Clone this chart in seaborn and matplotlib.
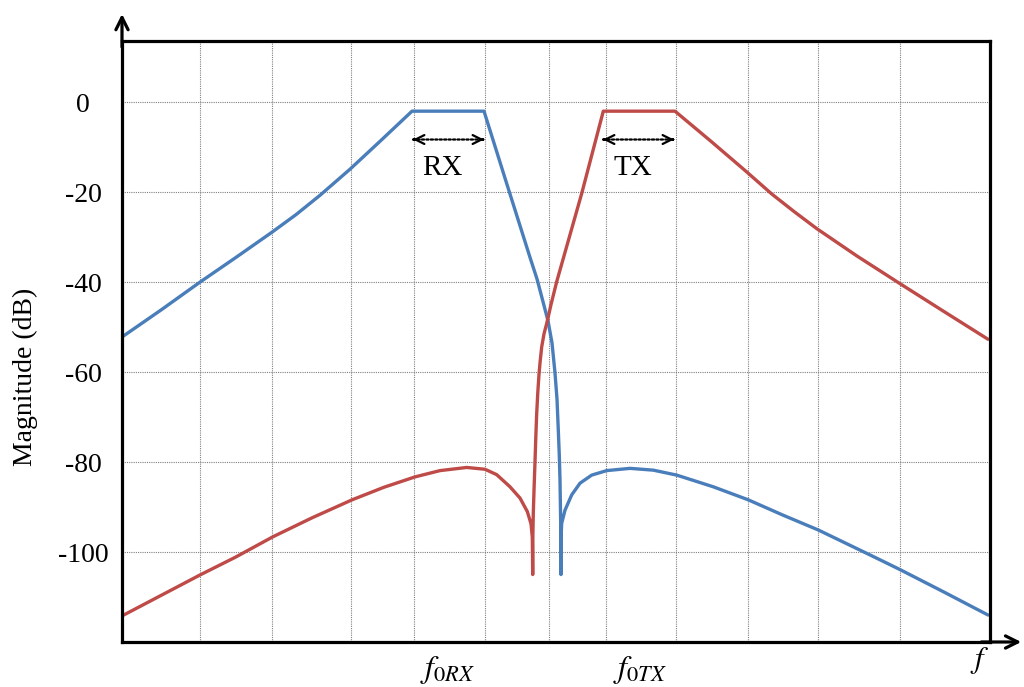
import matplotlib
matplotlib.use('Agg')
import matplotlib.pyplot as plt
import seaborn as sns

# ---------------- data (frequency in arbitrary units, magnitude in dB) ----------------
rx_x = [0, 39, 78, 114, 150, 174, 198, 228, 258, 290, 362, 385, 408, 415, 420, 426, 430, 433,
        435, 436.3, 437.3, 438, 438.8, 439,
        439, 439.7, 443, 449.7, 458, 469.7, 484.7, 508, 531.3, 554.7, 591.3, 626.3, 661,
        696.3, 751.3, 778, 822, 866]
rx_db = [-52.2, -46.2, -40.0, -34.5, -28.9, -25.0, -20.7, -14.9, -8.7, -2.0, -2.0, -18.3, -34.5,
         -39.3, -43.5, -48.6, -53.5, -60.2, -66.0, -72.9, -78.5, -84.0, -95.0, -105.0,
         -97.0, -93.6, -90.7, -87.3, -84.7, -82.9, -81.9, -81.4, -81.8, -82.9, -85.5, -88.4, -91.8,
         -95.1, -101.0, -103.9, -108.9, -114.0]

tx_x = [0, 78, 113, 151, 190, 230, 262, 293, 318, 344.7, 363, 374.7, 388, 398, 405.3, 409,
        410.3, 410.7,
        410.9, 411.3, 412.2, 413, 413.8, 414.7, 415.8, 417, 418.2, 419.7, 422, 424.7, 429, 434.7,
        459.7, 481.3, 553, 589, 624.7, 649.7, 672, 694.7, 735, 776.3, 821, 866]
tx_db = [-114.2, -105.1, -101.2, -96.6, -92.4, -88.4, -85.6, -83.3, -81.9, -81.2, -81.6, -82.8,
         -85.5, -88.0, -91.0, -93.7, -96.7, -105.0,
         -96.0, -91.3, -85.0, -80.0, -74.5, -69.2, -64.5, -60.5, -57.5, -54.4, -51.5, -49.2, -45.0,
         -39.9, -20.3, -2.0, -2.0, -8.7, -15.5, -20.4, -24.3, -28.1, -34.2, -40.1, -46.4, -52.7]

ytick_vals = [0, -20, -40, -60, -80, -100]
ytick_labels = ['0', '-20', '-40', '-60', '-80', '-100']
xtick_vals = [326, 518]
xtick_labels = [r'$f_{0RX}$', r'$f_{0TX}$']
grid_x = [77.5, 149.5, 229, 292, 363, 426.5, 483.5, 554, 626, 696, 777.5]
rx_band = [291, 362]
tx_band = [481, 552]
band_arrow_db = -8.3
band_label_db = -14.7
band_labels = ['RX', 'TX']

blue = '#4a7ebb'
red = '#be4b48'

# ---------------- style ----------------
sns.set_style('white')
plt.rcParams['font.family'] = ['Liberation Serif', 'DejaVu Serif']
plt.rcParams['mathtext.fontset'] = 'stix'
plt.rcParams['axes.unicode_minus'] = False
plt.rcParams['text.color'] = 'black'
plt.rcParams['xtick.color'] = 'black'
plt.rcParams['ytick.color'] = 'black'
plt.rcParams['xtick.labelcolor'] = 'black'
plt.rcParams['ytick.labelcolor'] = 'black'

fig = plt.figure(figsize=(10.24, 6.87), dpi=100)
ax = fig.add_axes([122 / 1024, 45 / 687, 868 / 1024, 601 / 687])

sns.lineplot(x=rx_x, y=rx_db, sort=False, estimator=None, color=blue, lw=2.4, ax=ax)
sns.lineplot(x=tx_x, y=tx_db, sort=False, estimator=None, color=red, lw=2.4, ax=ax)

ax.set_xlim(0, 868)
ax.set_ylim(-120, 13.6)

# grid
ax.set_axisbelow(True)
ax.set_yticks(ytick_vals)
ax.set_yticklabels(ytick_labels)
ax.set_xticks(grid_x, minor=True)
ax.set_xticks(xtick_vals)
ax.set_xticklabels(xtick_labels)
gkw = dict(color='#808080', linestyle=(0, (1, 1)), linewidth=0.8)
ax.yaxis.grid(True, which='major', **gkw)
ax.xaxis.grid(True, which='minor', **gkw)
ax.xaxis.grid(False, which='major')

ax.tick_params(axis='y', length=0, pad=28, labelsize=20, labelcolor='black')
for lab in ax.get_yticklabels():
    lab.set_horizontalalignment('center')
ax.tick_params(axis='x', which='major', direction='inout', length=13, width=1.3,
               color='black', pad=2, labelsize=23, labelcolor='black')
ax.tick_params(axis='x', which='minor', length=0)

for s in ax.spines.values():
    s.set_visible(True)
    s.set_color('black')
    s.set_linewidth(2.3)

ax.set_xlabel('')
ax.set_ylabel('')
fig.text(25 / 1024, 1 - 377 / 687, 'Magnitude (dB)', rotation=90, ha='center', va='center',
         fontsize=20, color='black')

# axis arrows
ax.annotate('', xy=(0, 1.045), xytext=(0, 0.99), xycoords='axes fraction',
            arrowprops=dict(arrowstyle='->', lw=2.3, color='black', mutation_scale=22,
                            shrinkA=0, shrinkB=0), annotation_clip=False)
ax.annotate('', xy=(1.036, 0), xytext=(0.99, 0), xycoords='axes fraction',
            arrowprops=dict(arrowstyle='->', lw=2.3, color='black', mutation_scale=22,
                            shrinkA=0, shrinkB=0), annotation_clip=False)
ax.text(0.9885, -0.03, r'$f$', transform=ax.transAxes, ha='center', va='center', fontsize=22)

# band arrows and labels
for band, lab in zip([rx_band, tx_band], band_labels):
    ax.annotate('', xy=(band[1], band_arrow_db), xytext=(band[0], band_arrow_db),
                arrowprops=dict(arrowstyle='-', lw=1.6, color='black', linestyle=(0, (1, 1)),
                                shrinkA=0, shrinkB=0))
    ax.annotate('', xy=(band[1], band_arrow_db), xytext=(band[1] - 1, band_arrow_db),
                arrowprops=dict(arrowstyle='->', lw=1.6, color='black', mutation_scale=16,
                                shrinkA=0, shrinkB=0))
    ax.annotate('', xy=(band[0], band_arrow_db), xytext=(band[0] + 1, band_arrow_db),
                arrowprops=dict(arrowstyle='->', lw=1.6, color='black', mutation_scale=16,
                                shrinkA=0, shrinkB=0))
    ax.text((band[0] + band[1]) / 2 - 6, band_label_db, lab, ha='center', va='center', fontsize=21)

fig.savefig('out.png', dpi=100)
